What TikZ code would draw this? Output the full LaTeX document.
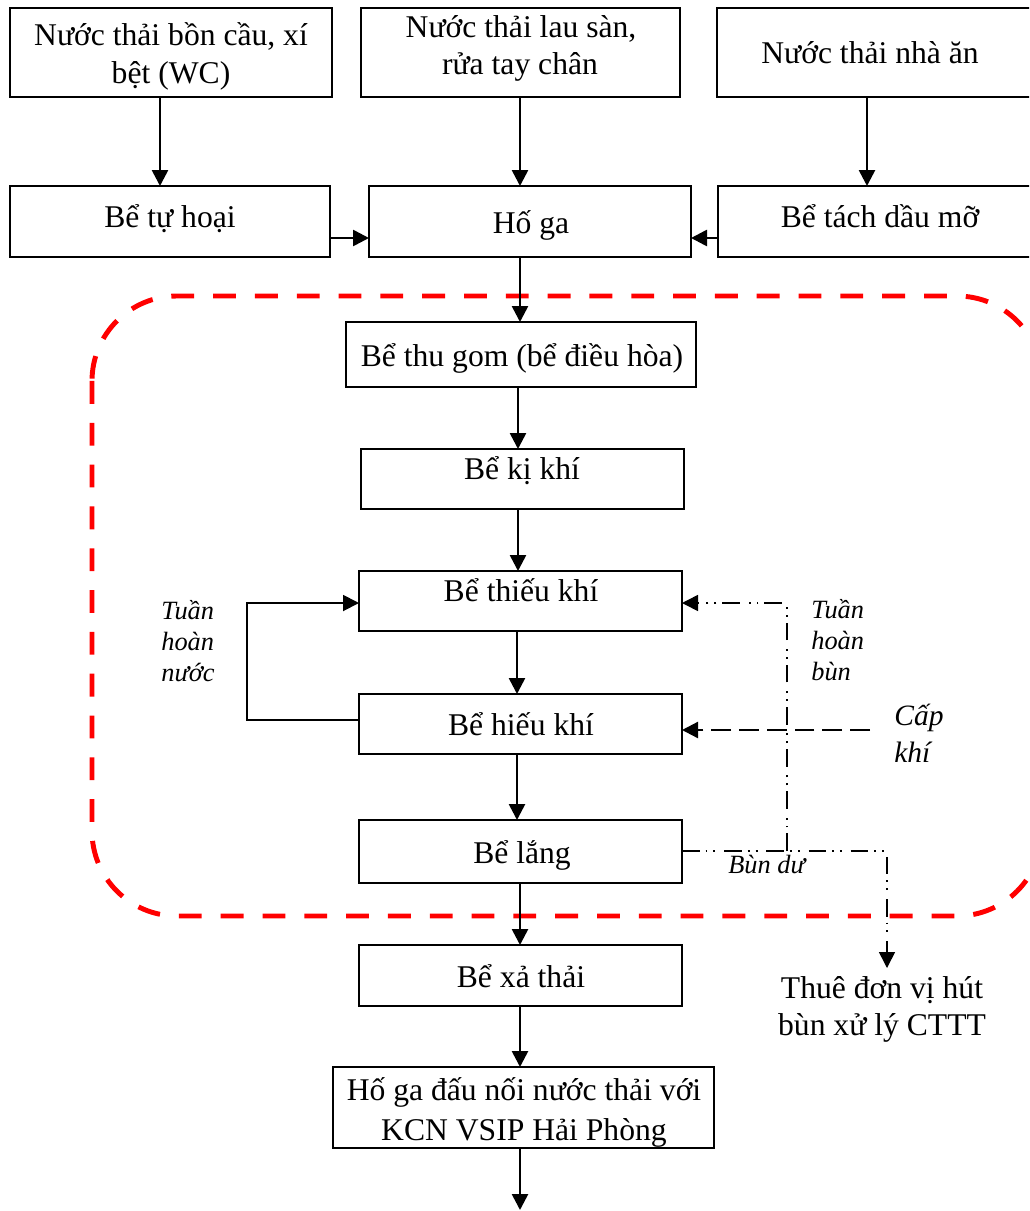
\documentclass[tikz,border=0pt]{standalone}
\usepackage{fontspec}
\setmainfont{Liberation Serif}
\usetikzlibrary{arrows.meta}

% \tank{name}{x1}{y1}{x2}{y2}: an empty framed box between two corners
\newcommand\tank[5]{%
  \node[tankbox, minimum width={(#4-#2)*0.02cm}, minimum height={(#5-#3)*0.02cm}]
    (#1) at ({(#2+#4)/2},{(#3+#5)/2}) {};}

\begin{document}
\begin{tikzpicture}[x=0.02cm, y=-0.02cm,
  tankbox/.style={draw, line width=1.1pt, inner sep=0pt, outer sep=0pt},
  txt/.style={font=\fontsize{18}{21}\selectfont, inner sep=0pt, anchor=base},
  note/.style={font=\fontsize{15}{18}\selectfont\itshape, inner sep=0pt, anchor=base west},
  bignote/.style={font=\fontsize{16.8}{20}\selectfont\itshape, inner sep=0pt, anchor=base west},
  tip/.style={-{Triangle[length=0.32cm, width=0.32cm]}},
  flow/.style={tip, line width=1.5pt},
  sludge/.style={tip, line width=0.9pt,
    dash pattern=on 10pt off 3.4pt on 1.1pt off 3.4pt on 1.1pt off 5pt},
  air/.style={tip, line width=1.3pt, dash pattern=on 11.3pt off 4.5pt},
  zone/.style={draw=red, line width=2.8pt, dash pattern=on 13pt off 10.8pt,
    rounded corners=1.7cm}]

\clip (0,0) rectangle (1029,1211);
\fill[white] (0,0) rectangle (1029,1211);

% treatment zone
\draw[zone] (92,296) rectangle (1042,916);

% boxes
\tank{A}{10}{8}{332}{97}
\tank{B}{361}{8}{680}{97}
\tank{C}{717}{8}{1045}{97}
\tank{D}{10}{186}{330}{257}
\tank{E}{369}{186}{691}{257}
\tank{F}{718}{186}{1045}{257}
\tank{G}{346}{322}{696}{387}
\tank{H}{361}{449}{684}{509}
\tank{I}{359}{571}{682}{631}
\tank{J}{359}{694}{682}{754}
\tank{K}{359}{820}{682}{883}
\tank{L}{359}{945}{682}{1006}
\tank{M}{333}{1067}{714}{1148}

% box texts
\node[txt] (tA1) at (171,45) {Nước thải bồn cầu, xí};
\node[txt] (tA2) at (171,83) {bệt (WC)};
\node[txt] (tB1) at (521,37) {Nước thải lau sàn,};
\node[txt] (tB2) at (520,74) {rửa tay chân};
\node[txt] (tC) at (870,63) {Nước thải nhà ăn};
\node[txt] (tD) at (170,227) {Bể tự hoại};
\node[txt] (tE) at (531,233) {Hố ga};
\node[txt] (tF) at (880,227) {Bể tách dầu mỡ};
\node[txt] (tG) at (522,366) {Bể thu gom (bể điều hòa)};
\node[txt] (tH) at (522,479) {Bể kị khí};
\node[txt] (tI) at (521,601) {Bể thiếu khí};
\node[txt] (tJ) at (521,735) {Bể hiếu khí};
\node[txt] (tK) at (522,863) {Bể lắng};
\node[txt] (tL) at (521,987) {Bể xả thải};
\node[txt] (tM1) at (524,1100) {Hố ga đấu nối nước thải với};
\node[txt] (tM2) at (524,1140) {KCN VSIP Hải Phòng};
\node[txt] (tT1) at (882,998) {Thuê đơn vị hút};
\node[txt] (tT2) at (882,1035) {bùn xử lý CTTT};

% side labels
\node[note] (n1) at (161,619) {Tuần};
\node[note] (n2) at (161,650) {hoàn};
\node[note] (n3) at (161,681) {nước};
\node[note] (s1) at (811,618) {Tuần};
\node[note] (s2) at (811,649) {hoàn};
\node[note] (s3) at (811,680) {bùn};
\node[note] (bd) at (728,873) {Bùn dư};
\node[bignote] (k1) at (894,725) {Cấp};
\node[bignote] (k2) at (894,762) {khí};

% reference points for the connectors
\coordinate (x160) at (160,0);
\coordinate (x517) at (517,0);
\coordinate (x518) at (518,0);
\coordinate (x520) at (520,0);
\coordinate (x867) at (867,0);
\coordinate (y238) at (0,238);
\coordinate (loop) at (247,720);
\coordinate (ret) at (787,603);
\coordinate (split) at (787,851);
\coordinate (out) at (887,851);
\coordinate (outEnd) at (887,968);
\coordinate (cap) at (870,730);
\coordinate (bottom) at (520,1210);

% main flow
\draw[flow] (A.south -| x160) -- (D.north -| x160);
\draw[flow] (B.south -| x520) -- (E.north -| x520);
\draw[flow] (C.south -| x867) -- (F.north -| x867);
\draw[flow] (D.east |- y238) -- (E.west |- y238);
\draw[flow] (F.west |- y238) -- (E.east |- y238);
\draw[flow] (E.south -| x520) -- (G.north -| x520);
\draw[flow] (G.south -| x518) -- (H.north -| x518);
\draw[flow] (H.south -| x518) -- (I.north -| x518);
\draw[flow] (I.south -| x517) -- (J.north -| x517);
\draw[flow] (J.south -| x517) -- (K.north -| x517);
\draw[flow] (K.south -| x520) -- (L.north -| x520);
\draw[flow] (L.south -| x520) -- (M.north -| x520);
\draw[flow] (M.south -| x520) -- (bottom);

% water recirculation
\draw[tip, line width=1.1pt] (J.west |- loop) -- (loop) -- (loop |- ret) -- (I.west |- ret);

% sludge recirculation and excess sludge
\draw[sludge] (split) -- (ret) -- (I.east |- ret);
\draw[sludge] (K.east |- split) -- (out) -- (outEnd);

% air supply
\draw[air] (cap) -- (J.east |- cap);

\end{tikzpicture}
\end{document}
